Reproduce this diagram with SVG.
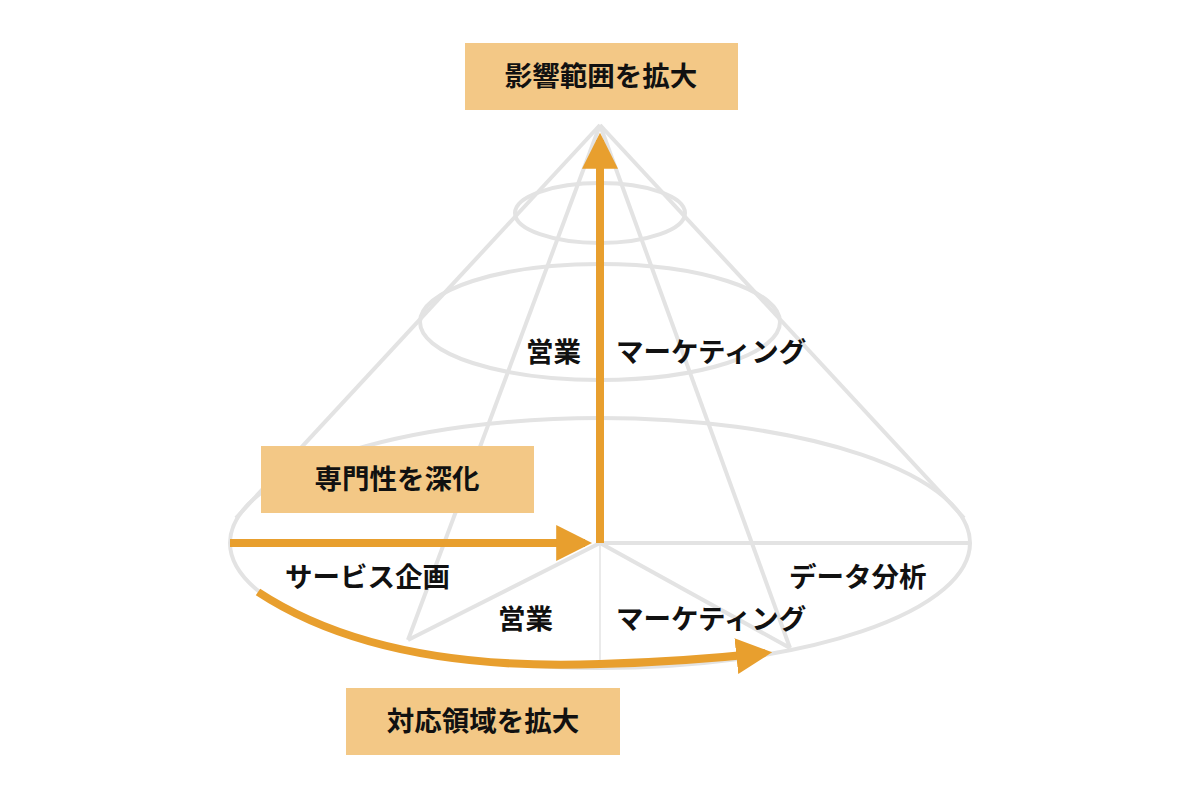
<svg xmlns="http://www.w3.org/2000/svg" width="1200" height="800" viewBox="0 0 1200 800">
<style>
.g{fill:none;stroke:#e3e3e3;stroke-width:4}
.o{fill:none;stroke:#e89f2e;stroke-width:8}
.box{fill:#f3c886}
text{font-family:"Noto Sans CJK JP",sans-serif;font-weight:bold;font-size:27.5px;fill:#111}
.c{text-anchor:middle}
</style>
<defs>
<marker id="ah" viewBox="0 0 10 10" refX="8" refY="5" markerWidth="4.5" markerHeight="4.5" orient="auto" markerUnits="strokeWidth"><path d="M0,0 L10,5 L0,10 z" fill="#e89f2e"/></marker>
</defs>
<g id="cone">
<ellipse class="g" cx="600" cy="543" rx="370" ry="125"/>
<ellipse class="g" cx="600" cy="322" rx="180" ry="58"/>
<ellipse class="g" cx="600" cy="213" rx="85" ry="30"/>
<line class="g" x1="600" y1="125" x2="236" y2="518"/>
<line class="g" x1="600" y1="125" x2="964" y2="518"/>
<line class="g" x1="600" y1="125" x2="408" y2="640"/>
<line class="g" x1="600" y1="125" x2="790" y2="648"/>
<line class="g" x1="600" y1="543" x2="408" y2="640"/>
<line class="g" x1="600" y1="543" x2="790" y2="648"/>
<line class="g" x1="600" y1="543" x2="970" y2="543"/>
<line x1="600" y1="543" x2="600" y2="668" stroke="#e3e3e3" stroke-width="1.5"/>
</g>
<g id="connectors">
<line class="o" x1="600" y1="543" x2="600" y2="140" marker-end="url(#ah)"/>
<line class="o" x1="230" y1="543" x2="585" y2="543" marker-end="url(#ah)"/>
<path class="o" d="M258,592 Q380,672 600,664 Q680,662 765,653" marker-end="url(#ah)"/>
</g>
<g id="top"><rect class="box" x="465" y="43" width="273" height="67"/><text class="c" x="601" y="86">影響範囲を拡大</text></g>
<g id="left"><rect class="box" x="261" y="446" width="273" height="67"/><text class="c" x="397" y="489">専門性を深化</text></g>
<g id="bottom"><rect class="box" x="346" y="688" width="274" height="67"/><text class="c" x="483" y="731">対応領域を拡大</text></g>
<g id="labels">
<text x="526" y="362">営業</text>
<text x="616" y="362">マーケティング</text>
<text x="285" y="587">サービス企画</text>
<text x="498" y="629">営業</text>
<text x="616" y="629">マーケティング</text>
<text x="789" y="587">データ分析</text>
</g>
</svg>
